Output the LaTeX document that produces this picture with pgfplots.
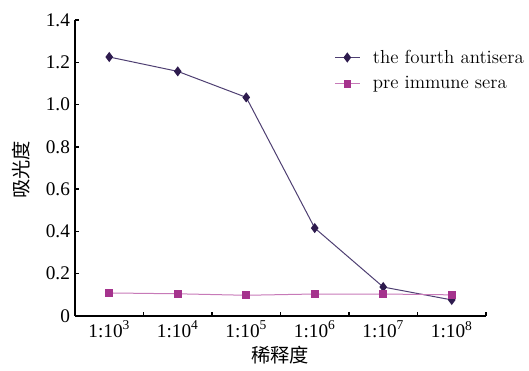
\documentclass[border=0pt]{standalone}
\usepackage{pgfplots}
\pgfplotsset{compat=1.18}
\usepackage{fontspec}
\setmainfont{Liberation Serif}
\newfontfamily\lmfont{Latin Modern Roman}
\newfontfamily\cjk{Noto Sans CJK SC}
\definecolor{antic}{HTML}{2E1B4E}
\definecolor{antil}{HTML}{4E3F72}
\definecolor{prec}{HTML}{A5338D}
\definecolor{prel}{HTML}{C77AB8}
\pgfplotsset{longlegend/.style={legend image code/.code={\draw[mark repeat=2,mark phase=2] plot coordinates {(0cm,0cm) (0.3cm,0cm) (0.6cm,0cm)};}}}
\begin{document}
\begin{tikzpicture}
\useasboundingbox (-52.5pt,-38.5pt) rectangle (317.8pt,221.2pt);
\begin{axis}[
  scale only axis,
  width=287.7pt, height=207.2pt,
  xmin=0, xmax=6, ymin=0, ymax=1.4,
  axis lines=left,
  axis line style={line width=1.3pt, -},
  xtick={0.5,1.5,2.5,3.5,4.5,5.5},
  xticklabels={1:10\textsuperscript{3},1:10\textsuperscript{4},1:10\textsuperscript{5},1:10\textsuperscript{6},1:10\textsuperscript{7},1:10\textsuperscript{8}},
  minor xtick={0,1,2,3,4,5,6},
  ytick={0,0.2,0.4,0.6,0.8,1.0,1.2,1.4},
  yticklabels={0,0.2,0.4,0.6,0.8,1.0,1.2,1.4},
  minor ytick={0,0.2,0.4,0.6,0.8,1.0,1.2,1.4},
  major tick length=0pt,
  minor tick length=3pt,
  every minor tick/.style={line width=1pt, black},
  tick align=inside,
  tick label style={font=\fontsize{13.5}{15}\selectfont},
  /pgf/number format/assume math mode=true,
  xlabel={\cjk 稀释度},
  ylabel={\cjk 吸光度},
  label style={font=\fontsize{13.5}{15}\selectfont},
  xlabel style={at={(axis description cs:0.499,-0.132)}, anchor=center},
  ylabel style={at={(axis description cs:-0.13,0.493)}, anchor=center, rotate=0},
  legend style={draw=none, fill=none, at={(axis description cs:0.631,0.91)}, anchor=north west,
    font=\lmfont\fontsize{13.2}{14}\selectfont, row sep=4pt, column sep=7pt, inner sep=0pt},
  legend cell align=left,
  clip=false,
]
\addplot[longlegend, color=antil, line width=0.7pt, mark=diamond*, mark size=3pt, mark options={fill=antic, draw=antic}]
  coordinates {(0.5,1.225) (1.5,1.157) (2.5,1.034) (3.5,0.416) (4.5,0.137) (5.5,0.076)};
\addlegendentry{the fourth antisera}
\addplot[longlegend, color=prel, line width=0.7pt, mark=square*, mark size=2.3pt, mark options={fill=prec, draw=prec}]
  coordinates {(0.5,0.109) (1.5,0.105) (2.5,0.098) (3.5,0.104) (4.5,0.104) (5.5,0.100)};
\addlegendentry{pre immune sera}
\end{axis}
\end{tikzpicture}
\end{document}
